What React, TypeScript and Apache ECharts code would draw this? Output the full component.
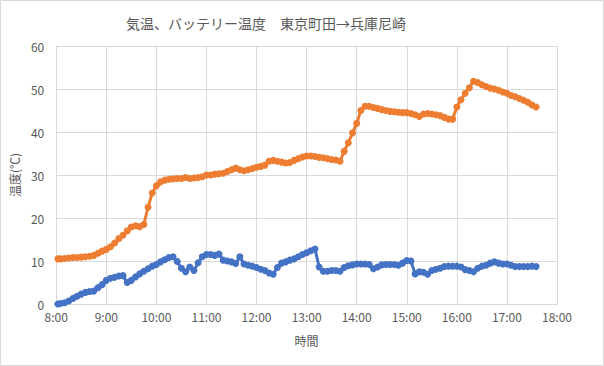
import React, { useEffect, useRef } from "react";
import * as echarts from "echarts";

const TITLE = "気温、バッテリー温度　東京町田→兵庫尼崎";
const X_NAME = "時間";
const Y_NAME = "温度(℃)";

// sample times (H:MM)
const times: string[] = [
  "8:02", "8:05", "8:10", "8:15", "8:20", "8:25", "8:30", "8:35", "8:40", "8:45", "8:50", "8:55",
  "9:00", "9:05", "9:10", "9:15", "9:20", "9:25", "9:30", "9:35", "9:40", "9:45", "9:50", "9:55",
  "10:00", "10:05", "10:10", "10:15", "10:20", "10:25", "10:30", "10:35", "10:40", "10:45", "10:50", "10:55",
  "11:00", "11:05", "11:10", "11:15", "11:20", "11:25", "11:30", "11:35", "11:40", "11:45", "11:50", "11:55",
  "12:00", "12:05", "12:10", "12:15", "12:20", "12:25", "12:30", "12:35", "12:40", "12:45", "12:50", "12:55",
  "13:00", "13:05", "13:10", "13:15", "13:20", "13:25", "13:30", "13:35", "13:40", "13:45", "13:50", "13:55",
  "14:00", "14:05", "14:10", "14:15", "14:20", "14:25", "14:30", "14:35", "14:40", "14:45", "14:50", "14:55",
  "15:00", "15:05", "15:10", "15:15", "15:20", "15:25", "15:30", "15:35", "15:40", "15:45", "15:50", "15:55",
  "16:00", "16:05", "16:10", "16:15", "16:20", "16:25", "16:30", "16:35", "16:40", "16:45", "16:50", "16:55",
  "17:00", "17:05", "17:10", "17:15", "17:20", "17:25", "17:30", "17:35",
];

// battery temperature (orange)
const batteryTemp: number[] = [
  10.5, 10.5, 10.6, 10.7, 10.8, 10.8, 10.9, 11.0, 11.1, 11.3, 11.8, 12.3,
  12.7, 13.3, 14.2, 15.2, 16.0, 17.0, 17.9, 18.2, 18.0, 18.5, 22.5, 25.8,
  27.5, 28.4, 28.8, 29.0, 29.1, 29.2, 29.2, 29.4, 29.2, 29.3, 29.4, 29.6,
  30.0, 30.0, 30.2, 30.3, 30.4, 30.8, 31.2, 31.6, 31.2, 31.0, 31.2, 31.5,
  31.8, 32.0, 32.3, 33.2, 33.4, 33.2, 33.0, 32.8, 32.9, 33.4, 33.8, 34.2,
  34.4, 34.4, 34.3, 34.1, 34.0, 33.8, 33.6, 33.5, 33.2, 35.5, 37.5, 39.8,
  42.0, 45.0, 46.0, 46.0, 45.7, 45.5, 45.2, 45.0, 44.8, 44.7, 44.6, 44.5,
  44.5, 44.3, 44.0, 43.6, 44.2, 44.3, 44.2, 44.0, 43.8, 43.4, 43.0, 43.0,
  45.8, 47.5, 49.0, 50.3, 51.8, 51.5, 51.0, 50.6, 50.2, 50.0, 49.7, 49.3,
  49.0, 48.5, 48.2, 47.8, 47.4, 46.9, 46.3, 45.8,
];

// air temperature (blue)
const airTemp: number[] = [
  0.0, 0.1, 0.3, 0.7, 1.3, 1.8, 2.3, 2.7, 2.9, 3.0, 3.8, 4.5,
  5.5, 6.0, 6.2, 6.5, 6.6, 5.0, 5.5, 6.3, 7.0, 7.6, 8.2, 8.8,
  9.2, 9.8, 10.3, 10.8, 11.0, 9.9, 8.3, 7.5, 8.6, 7.8, 9.6, 11.0,
  11.5, 11.5, 11.3, 11.6, 10.2, 10.0, 9.8, 9.4, 11.0, 9.3, 9.0, 8.8,
  8.5, 8.1, 7.8, 7.2, 6.9, 8.5, 9.5, 9.8, 10.2, 10.5, 11.0, 11.5,
  11.9, 12.4, 12.8, 8.6, 7.6, 7.6, 7.8, 7.8, 7.6, 8.5, 8.9, 9.1,
  9.3, 9.3, 9.3, 9.2, 8.2, 8.6, 9.1, 9.2, 9.2, 9.2, 9.0, 9.5,
  10.1, 10.0, 7.0, 7.5, 7.4, 6.9, 7.8, 8.1, 8.3, 8.7, 8.8, 8.8,
  8.8, 8.6, 8.0, 7.8, 7.5, 8.3, 8.8, 9.0, 9.5, 9.8, 9.5, 9.3,
  9.3, 9.0, 8.7, 8.7, 8.7, 8.7, 8.8, 8.7,
];

const toHours = (t: string) => {
  const [h, m] = t.split(":").map(Number);
  return h + m / 60;
};

const FONT = "'Noto Sans CJK JP', 'Noto Sans', sans-serif";

export default function App() {
  const ref = useRef<HTMLDivElement>(null);
  useEffect(() => {
    document.body.style.margin = "0";
    if (!ref.current) return;
    const chart = echarts.init(ref.current, undefined, { renderer: "svg" });
    const mk = (vals: number[]) => times.map((t, i) => [toHours(t), vals[i]]);
    chart.setOption({
      animation: false,
      backgroundColor: "#ffffff",
      textStyle: { fontFamily: FONT },
      title: {
        text: TITLE,
        left: 261,
        top: 11,
        textAlign: "center",
        textStyle: { fontSize: 14, fontWeight: "normal", color: "#595959", fontFamily: FONT },
      },
      graphic: [
        {
          type: "rect",
          shape: { x: 0.5, y: 0.5, width: 603, height: 365 },
          style: { fill: "none", stroke: "#d9d9d9", lineWidth: 1 },
          silent: true,
        },
      ],
      grid: { left: 56, right: 47, top: 46, bottom: 62, containLabel: false },
      xAxis: {
        type: "value",
        min: 8,
        max: 18,
        interval: 1,
        name: X_NAME,
        nameLocation: "middle",
        nameGap: 30,
        nameTextStyle: { fontSize: 12, color: "#595959" },
        axisLine: { show: true, lineStyle: { color: "#d9d9d9" } },
        axisTick: { show: false },
        axisLabel: { color: "#595959", fontSize: 12, margin: 6, formatter: (v: number) => `${v}:00` },
        splitLine: { show: true, lineStyle: { color: "#d9d9d9", width: 1 } },
      },
      yAxis: {
        type: "value",
        min: 0,
        max: 60,
        interval: 10,
        name: Y_NAME,
        nameLocation: "middle",
        nameGap: 27,
        nameRotate: 90,
        nameTextStyle: { fontSize: 12, color: "#595959" },
        axisLine: { show: false },
        axisTick: { show: false },
        axisLabel: { color: "#595959", fontSize: 12, margin: 12 },
        splitLine: { show: true, lineStyle: { color: "#d9d9d9", width: 1 } },
      },
      series: [
        {
          name: "バッテリー温度",
          type: "line",
          data: mk(batteryTemp),
          symbol: "circle",
          symbolSize: 7,
          showAllSymbol: true,
          itemStyle: { color: "#ED7D31" },
          lineStyle: { color: "#ED7D31", width: 3 },
        },
        {
          name: "気温",
          type: "line",
          data: mk(airTemp),
          symbol: "circle",
          symbolSize: 7,
          showAllSymbol: true,
          itemStyle: { color: "#4472C4" },
          lineStyle: { color: "#4472C4", width: 3 },
        },
      ],
    });
    return () => chart.dispose();
  }, []);
  return <div ref={ref} style={{ width: 604, height: 366 }} />;
}
